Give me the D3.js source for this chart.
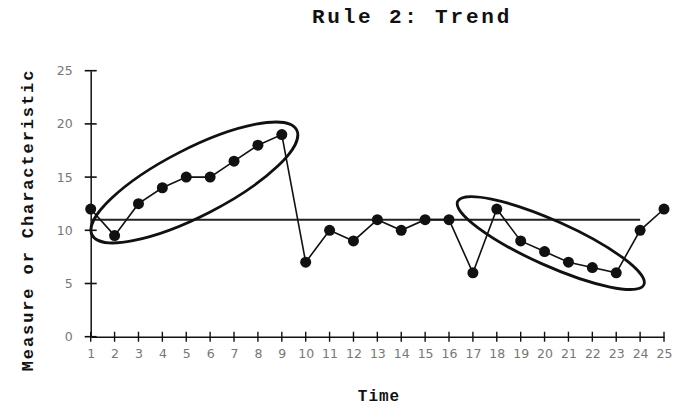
<!DOCTYPE html>
<html>
<head>
<meta charset="utf-8">
<script src="https://cdn.jsdelivr.net/npm/d3@7"></script>
<style>
  html, body { margin: 0; padding: 0; background: #fff; }
  svg { display: block; }
</style>
</head>
<body>
<svg id="chart" width="673" height="405"></svg>
<script>
// ---- data ----
const times = [1,2,3,4,5,6,7,8,9,10,11,12,13,14,15,16,17,18,19,20,21,22,23,24,25];
const values = [12,9.5,12.5,14,15,15,16.5,18,19,7,10,9,11,10,11,11,6,12,9,8,7,6.5,6,10,12];
const yTicks = [0,5,10,15,20,25];
const xTicks = [1,2,3,4,5,6,7,8,9,10,11,12,13,14,15,16,17,18,19,20,21,22,23,24,25];
const centerValue = 11;
const centerSpan = [1, 24];
const trendCenters = [[5.34, 14.5], [20.26, 8.8]];
const titleText = "Rule 2: Trend";
const xLabelText = "Time";
const yLabelText = "Measure or Characteristic";

// ---- drawing ----
const svg = d3.select("#chart");
const x = d3.scaleLinear().domain([1, 25]).range([90.7, 664]);
const y = d3.scaleLinear().domain([0, 25]).range([336.7, 70.7]);

const mono = "'Liberation Mono', 'Courier New', monospace";
const sans = "'DejaVu Sans', Verdana, sans-serif";

// title
svg.append("text").attr("x", 412).attr("y", 23.3).attr("text-anchor", "middle")
  .attr("font-family", mono).attr("font-weight", "bold").attr("font-size", 21)
  .attr("letter-spacing", 2.8).attr("fill", "#111").text(titleText);

// axes
const yAxis = d3.axisLeft(y).tickValues(yTicks).tickSize(0).tickPadding(18);
const gy = svg.append("g").attr("transform", `translate(${x(1)},0)`).call(yAxis);
gy.select(".domain").attr("stroke", "#111").attr("stroke-width", 1.5);
gy.selectAll("text").attr("font-family", sans).attr("font-size", 12.5).attr("fill", "#777");

const xAxis = d3.axisBottom(x).tickValues(xTicks).tickSize(0).tickPadding(12);
const gx = svg.append("g").attr("transform", `translate(0,${y(0)})`).call(xAxis);
gx.select(".domain").attr("stroke", "#111").attr("stroke-width", 1.5);
gx.selectAll("text").attr("font-family", sans).attr("font-size", 12.5).attr("fill", "#777");

// crossing tick marks
svg.append("g").selectAll("line").data(yTicks).join("line")
  .attr("x1", x(1) - 6).attr("x2", x(1) + 6)
  .attr("y1", d => y(d)).attr("y2", d => y(d))
  .attr("stroke", "#111").attr("stroke-width", 1.6);
svg.append("g").selectAll("line").data(xTicks).join("line")
  .attr("x1", d => x(d)).attr("x2", d => x(d))
  .attr("y1", y(0) - 5).attr("y2", y(0) + 5)
  .attr("stroke", "#111").attr("stroke-width", 1.4);

// axis titles
svg.append("text").attr("x", 379).attr("y", 401).attr("text-anchor", "middle")
  .attr("font-family", mono).attr("font-weight", "bold").attr("font-size", 16)
  .attr("letter-spacing", 1).attr("fill", "#111").text(xLabelText);
svg.append("text").attr("transform", "translate(33,220) rotate(-90)").attr("text-anchor", "middle")
  .attr("font-family", mono).attr("font-weight", "bold").attr("font-size", 17)
  .attr("letter-spacing", 1.9).attr("fill", "#111").text(yLabelText);

// center line
svg.append("line")
  .attr("x1", x(centerSpan[0])).attr("x2", x(centerSpan[1]))
  .attr("y1", y(centerValue)).attr("y2", y(centerValue))
  .attr("stroke", "#222").attr("stroke-width", 2);

// data line
const pts = times.map((t, i) => [t, values[i]]);
svg.append("path").datum(pts)
  .attr("d", d3.line().x(d => x(d[0])).y(d => y(d[1])))
  .attr("fill", "none").attr("stroke", "#111").attr("stroke-width", 1.6);

svg.append("g").selectAll("circle").data(pts).join("circle")
  .attr("cx", d => x(d[0])).attr("cy", d => y(d[1])).attr("r", 5.5)
  .attr("fill", "#111");

// trend ellipses
const ellGeom = [{rx: 115, ry: 33.5, rot: -27.2}, {rx: 102, ry: 22.5, rot: 24.1}];
svg.append("g").selectAll("ellipse").data(trendCenters).join("ellipse")
  .attr("transform", (d, i) => `translate(${x(d[0])},${y(d[1])}) rotate(${ellGeom[i].rot})`)
  .attr("rx", (d, i) => ellGeom[i].rx).attr("ry", (d, i) => ellGeom[i].ry)
  .attr("fill", "none").attr("stroke", "#111").attr("stroke-width", 2.8);
</script>
</body>
</html>
